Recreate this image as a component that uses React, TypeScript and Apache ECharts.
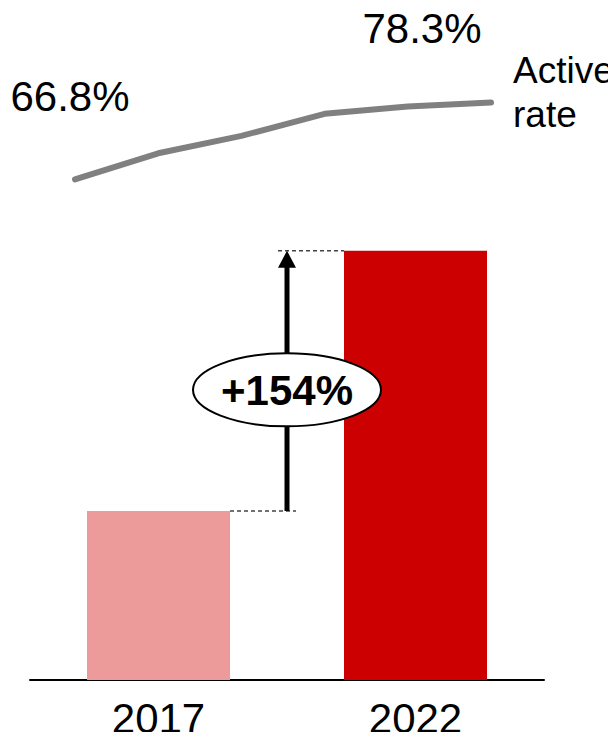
import React, { useEffect, useRef } from "react";
import * as echarts from "echarts";

// User base (2017 = 100) and yearly active rate
const years = ["2017", "2022"];
const userIndex = [100, 254];
const barColors = ["#EC9A9A", "#CC0000"];
const rateYears = ["2017", "2018", "2019", "2020", "2021", "2022"];
const activeRate = [66.8, 70.7, 73.3, 76.6, 77.7, 78.3];

const FONT = "'Liberation Sans', Arial, sans-serif";
const BAR_WIDTH = 143;

export default function App() {
  const ref = useRef<HTMLDivElement>(null);

  useEffect(() => {
    if (!ref.current) return;
    const chart = echarts.init(ref.current, undefined, { renderer: "svg" });
    const last = activeRate.length - 1;

    chart.setOption({
      animation: false,
      backgroundColor: "#ffffff",
      textStyle: { fontFamily: FONT },
      grid: [
        { left: 30, right: 72, top: 173, bottom: 60 },
        { left: 75, right: 125, top: 91, bottom: 515 },
      ],
      xAxis: [
        {
          type: "category",
          gridIndex: 0,
          data: years,
          axisLine: { lineStyle: { color: "#000000", width: 2 } },
          axisTick: { show: false },
          axisLabel: { fontSize: 42, color: "#000000", margin: 17, fontFamily: FONT },
        },
        {
          type: "category",
          gridIndex: 1,
          data: rateYears,
          boundaryGap: false,
          show: false,
        },
      ],
      yAxis: [
        { type: "value", gridIndex: 0, min: 0, max: 300, show: false },
        { type: "value", gridIndex: 1, min: 60, max: 80, show: false },
      ],
      series: [
        {
          type: "bar",
          xAxisIndex: 0,
          yAxisIndex: 0,
          barWidth: BAR_WIDTH,
          data: userIndex.map((v, i) => ({ value: v, itemStyle: { color: barColors[i] } })),
        },
        {
          type: "line",
          xAxisIndex: 1,
          yAxisIndex: 1,
          symbol: "circle",
          symbolSize: 1,
          itemStyle: { color: "transparent", borderWidth: 0 },
          lineStyle: { color: "#808080", width: 6, cap: "round", join: "round" },
          data: activeRate.map((v, i) => {
            const item: any = { value: v };
            if (i === 0 || i === last) {
              item.label = {
                show: true,
                position: "inside",
                offset: i === 0 ? [-5, -83] : [-69, -74],
                formatter: (p: any) => `${p.value}%`,
                fontSize: 42,
                color: "#000000",
                fontFamily: FONT,
              };
            }
            return item;
          }),
          endLabel: {
            show: true,
            formatter: "Active\nrate",
            distance: 22,
            offset: [0, -10],
            fontSize: 37,
            lineHeight: 44,
            color: "#000000",
            fontFamily: FONT,
          },
        },
      ],
    });

    // Growth annotation between the two bars
    const p1 = chart.convertToPixel({ xAxisIndex: 0, yAxisIndex: 0 }, [0, userIndex[0]]) as number[];
    const p2 = chart.convertToPixel({ xAxisIndex: 0, yAxisIndex: 0 }, [1, userIndex[1]]) as number[];
    const midX = (p1[0] + p2[0]) / 2;
    const half = BAR_WIDTH / 2;
    const growth = Math.round((userIndex[1] / userIndex[0] - 1) * 100);
    const cy = (p1[1] + p2[1]) / 2 + 9;
    const dash = { stroke: "#444444", lineWidth: 1.5, lineDash: [4, 3] };

    chart.setOption({
      graphic: [
        {
          type: "line",
          z: 100,
          shape: { x1: p1[0] + half, y1: p1[1], x2: midX + 9, y2: p1[1] },
          style: dash,
        },
        {
          type: "line",
          z: 100,
          shape: { x1: midX - 9, y1: p2[1], x2: p2[0] - half, y2: p2[1] },
          style: dash,
        },
        {
          type: "line",
          z: 100,
          shape: { x1: midX, y1: p1[1], x2: midX, y2: p2[1] + 15 },
          style: { stroke: "#000000", lineWidth: 5 },
        },
        {
          type: "polygon",
          z: 100,
          shape: {
            points: [
              [midX, p2[1]],
              [midX - 9, p2[1] + 17],
              [midX + 9, p2[1] + 17],
            ],
          },
          style: { fill: "#000000" },
        },
        {
          type: "ellipse",
          z: 101,
          shape: { cx: midX, cy, rx: 94, ry: 36.5 },
          style: { fill: "#ffffff", stroke: "#000000", lineWidth: 2 },
        },
        {
          type: "text",
          z: 102,
          x: midX,
          y: cy + 1,
          style: {
            text: `+${growth}%`,
            fontSize: 42,
            fontWeight: "bold",
            fontFamily: FONT,
            fill: "#000000",
            align: "center",
            verticalAlign: "middle",
          },
        },
      ],
    });

    return () => chart.dispose();
  }, []);

  return <div ref={ref} style={{ width: 616, height: 740, margin: -8 }} />;
}
